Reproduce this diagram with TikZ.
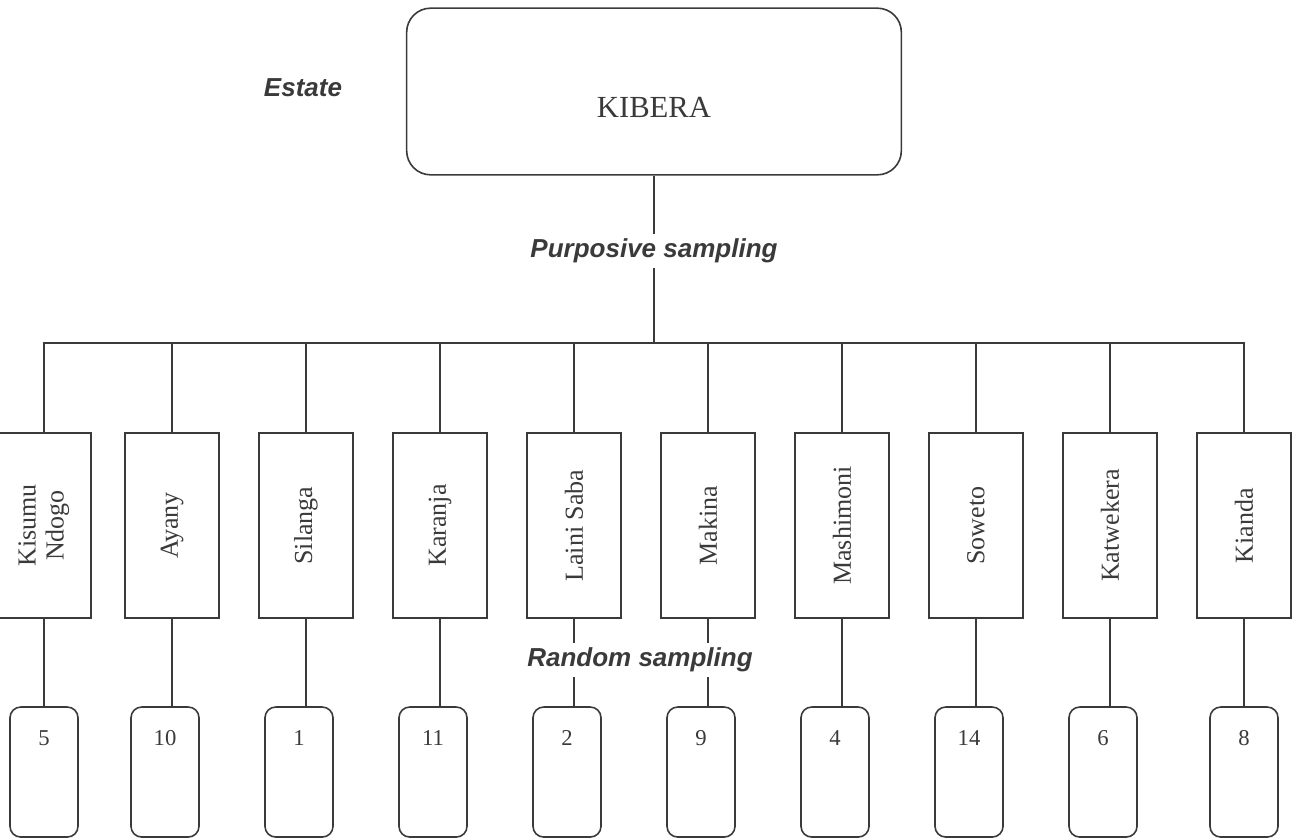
\documentclass[tikz,border=0pt]{standalone}
\usepackage{fontspec}
\setmainfont{Liberation Serif}
\setsansfont{Liberation Sans}
\usetikzlibrary{positioning}
\usetikzlibrary{calc}
\definecolor{ink}{HTML}{3A3A3A}

\begin{document}
\begin{tikzpicture}[x=0.75pt,y=-0.75pt,line width=1.2pt,color=ink,
					node distance=100.5pt]
					\tikzstyle{estatebox}=[draw,rounded corners=18pt,minimum width=371pt,minimum height=125pt,
					inner ysep=0pt,text height=82pt,text depth=43pt,font=\fontsize{23}{26}\selectfont]
					\tikzstyle{area}=[draw,minimum width=70.5pt,minimum height=138.75pt,
					font=\fontsize{19.5}{21}\selectfont]
					\tikzstyle{sample}=[draw,rounded corners=8pt,minimum width=51pt,inner xsep=0pt,inner ysep=3pt,
					text height=26pt,text depth=65.5pt,font=\fontsize{17}{20}\selectfont,node distance=184.9pt]
					\tikzstyle{method}=[font=\sffamily\bfseries\itshape\fontsize{19.5}{22}\selectfont]
					
					\useasboundingbox (0,0) rectangle (1298,838);
					
					\node[estatebox]  (kibera) at (654,91.5) {KIBERA};
					\node[method]     (estate) at (303,88)   {Estate};
					\coordinate       (bus)    at (654,343);
					
					\node[area]       (ayany)     at (172,525.5)       {\rotatebox{90}{Ayany}};
					\node[area]       (kisumu)    [left of=ayany,node distance=96pt] {\rotatebox{90}{\begin{tabular}{@{}c@{}}Kisumu\\Ndogo\end{tabular}}};
					\node[area]       (silanga)   [right of=ayany]     {\rotatebox{90}{Silanga}};
					\node[area]       (karanja)   [right of=silanga]   {\rotatebox{90}{Karanja}};
					\node[area]       (lainisaba) [right of=karanja]   {\rotatebox{90}{Laini Saba}};
					\node[area]       (makina)    [right of=lainisaba] {\rotatebox{90}{Makina}};
					\node[area]       (mashimoni) [right of=makina]    {\rotatebox{90}{Mashimoni}};
					\node[area]       (soweto)    [right of=mashimoni] {\rotatebox{90}{Soweto}};
					\node[area]       (katwekera) [right of=soweto]    {\rotatebox{90}{Katwekera}};
					\node[area]       (kianda)    [right of=katwekera] {\rotatebox{90}{Kianda}};
					
					\node[sample]     (s_kisumu)    [below of=kisumu]                  {5};
					\node[sample]     (s_ayany)     [below of=ayany,xshift=-5.25pt]     {10};
					\node[sample]     (s_silanga)   [below of=silanga,xshift=-5.25pt]   {1};
					\node[sample]     (s_karanja)   [below of=karanja,xshift=-5.25pt]   {11};
					\node[sample]     (s_lainisaba) [below of=lainisaba,xshift=-5.25pt] {2};
					\node[sample]     (s_makina)    [below of=makina,xshift=-5.25pt]    {9};
					\node[sample]     (s_mashimoni) [below of=mashimoni,xshift=-5.25pt] {4};
					\node[sample]     (s_soweto)    [below of=soweto,xshift=-5.25pt]    {14};
					\node[sample]     (s_katwekera) [below of=katwekera,xshift=-5.25pt] {6};
					\node[sample]     (s_kianda)    [below of=kianda]                  {8};
					
					% purposive sampling: estate to areas
					\draw (kibera) -- node[method,fill=white,pos=.45] {Purposive sampling} (bus);
					\draw (kisumu.north) |- (bus) -| (kianda.north);
					\path (ayany.north)     edge (ayany.north |- bus)
					(silanga.north)   edge (silanga.north |- bus)
					(karanja.north)   edge (karanja.north |- bus)
					(lainisaba.north) edge (lainisaba.north |- bus)
					(makina.north)    edge (makina.north |- bus)
					(mashimoni.north) edge (mashimoni.north |- bus)
					(soweto.north)    edge (soweto.north |- bus)
					(katwekera.north) edge (katwekera.north |- bus);
					
					% random sampling: areas to samples
					\path (kisumu.south)    edge (kisumu.south |- s_kisumu.north)
					(ayany.south)     edge (ayany.south |- s_ayany.north)
					(silanga.south)   edge (silanga.south |- s_silanga.north)
					(karanja.south)   edge (karanja.south |- s_karanja.north)
					(lainisaba.south) edge (lainisaba.south |- s_lainisaba.north)
					(makina.south)    edge (makina.south |- s_makina.north)
					(mashimoni.south) edge (mashimoni.south |- s_mashimoni.north)
					(soweto.south)    edge (soweto.south |- s_soweto.north)
					(katwekera.south) edge (katwekera.south |- s_katwekera.north)
					(kianda.south)    edge (kianda.south |- s_kianda.north);
					\node[method,fill=white] (random) at (640,660) {Random sampling};
\end{tikzpicture}
\end{document}
